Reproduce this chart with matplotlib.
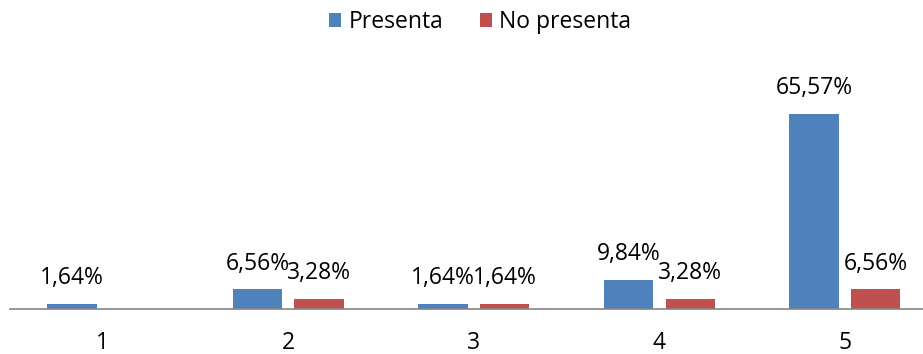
import numpy as np
import matplotlib.pyplot as plt

plt.rcParams['font.family'] = ['Open Sans', 'DejaVu Sans']

categorias = ['1', '2', '3', '4', '5']
presenta = [1.64, 6.56, 1.64, 9.84, 65.57]
no_presenta = [np.nan, 3.28, 1.64, 3.28, 6.56]  # sin dato en la categoría 1

azul = '#4F81BD'
rojo = '#C0504D'

fig = plt.figure(figsize=(9.23, 3.54), dpi=100)
ax = fig.add_axes([0.0108, 0.1271, 1.005, 0.5885])

x = np.arange(len(categorias))
ancho = 0.265
desp = 0.166

b1 = ax.bar(x - desp, presenta, ancho, color=azul, label='Presenta')
b2 = ax.bar(x + desp, no_presenta, ancho, color=rojo, label='No presenta')

def etiquetas(barras, valores):
    for barra, v in zip(barras, valores):
        if np.isnan(v):
            continue
        ax.annotate(f'{v:.2f}%'.replace('.', ','),
                    (barra.get_x() + barra.get_width() / 2, v),
                    xytext=(0, 10), textcoords='offset points',
                    ha='center', va='bottom', fontsize=16.5)

etiquetas(b1, presenta)
etiquetas(b2, no_presenta)

ax.set_xlim(-0.5, 4.5)
ax.set_ylim(0, 70)
ax.set_xticks(x)
ax.set_xticklabels(categorias, fontsize=16.5)
ax.tick_params(axis='x', length=0, pad=16)
ax.set_yticks([])
for lado in ['top', 'right', 'left']:
    ax.spines[lado].set_visible(False)
ax.spines['bottom'].set_color('#868686')
ax.spines['bottom'].set_linewidth(1.2)

fig.legend(handles=[b1, b2], loc='upper center', bbox_to_anchor=(0.52, 1.03),
           ncol=2, frameon=False, fontsize=16.5, handlelength=0.55,
           handleheight=0.55, handletextpad=0.3, columnspacing=1.6)

fig.savefig('out.png', dpi=100)
